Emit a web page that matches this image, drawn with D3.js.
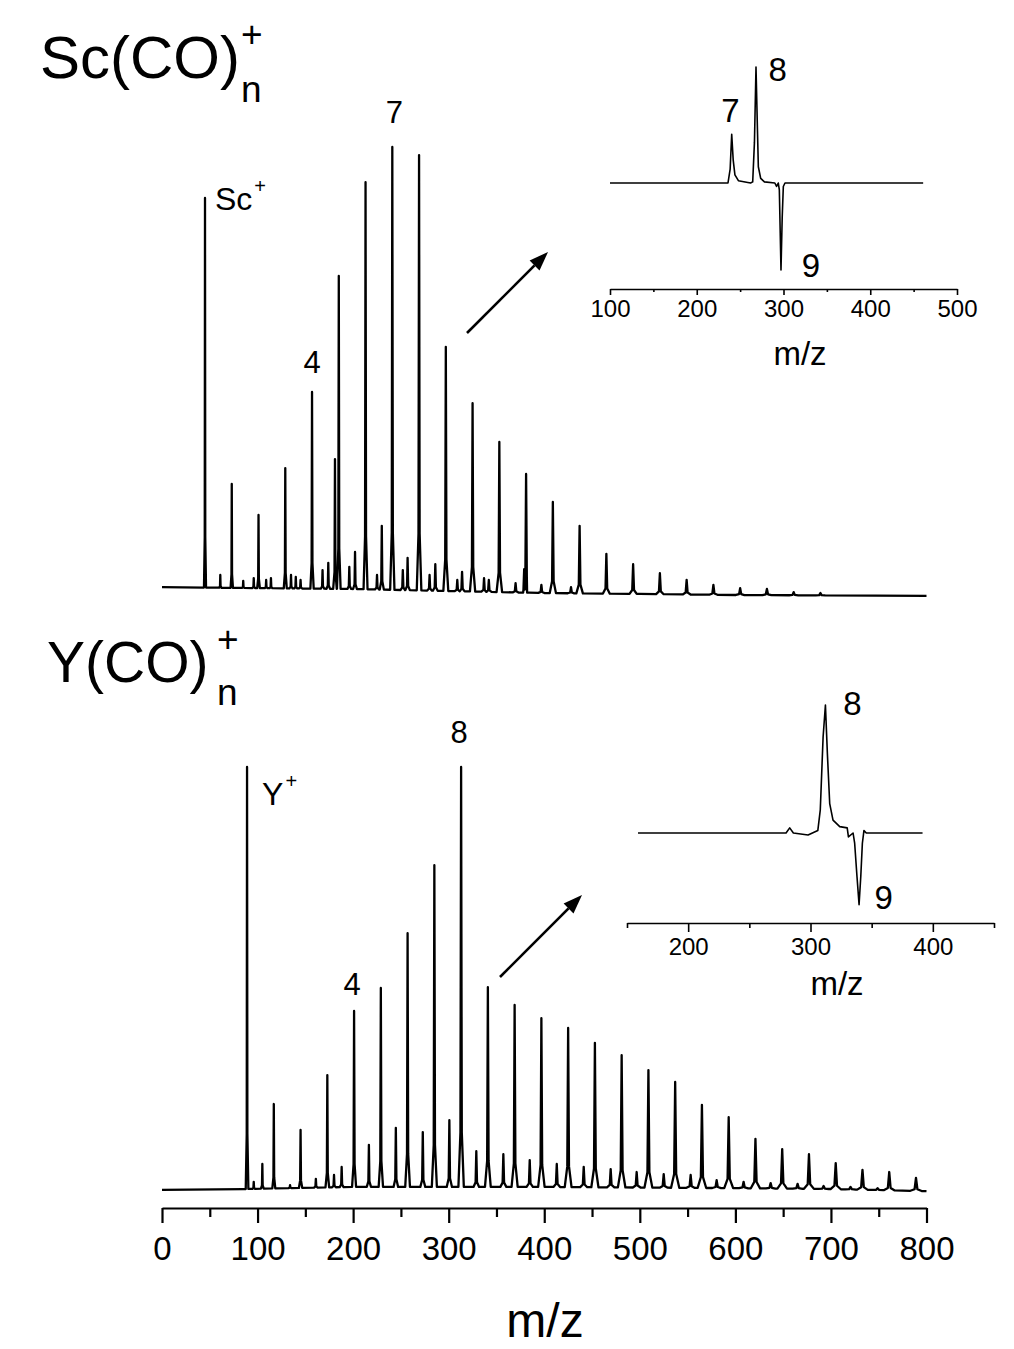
<!DOCTYPE html>
<html>
<head>
<meta charset="utf-8">
<script src="https://cdn.jsdelivr.net/npm/d3@7"></script>
<style>
body { margin: 0; background: #fff; }
svg text { font-family: "Liberation Sans", Arial, sans-serif; fill: #000; }
</style>
</head>
<body>
<div id="chart"></div>
<script>
// ---- Sc(CO)n+ spectrum: main series (n = 0..23, n = 0 is Sc+) ----
var scMass = [45, 73, 101, 129, 157, 185, 213, 241, 269, 297, 325, 353, 381, 409, 437, 465, 493, 521, 549, 577, 605, 633, 661, 689];
var scInt  = [88.7, 25.3, 18.4, 28.8, 45.7, 71.4, 92.2, 100, 98.2, 55.7, 43.2, 34.6, 27.5, 21.3, 16.0, 9.8, 7.5, 5.5, 4.0, 2.9, 2.2, 2.0, 1.3, 1.1];
// small side peaks
var scMinorMass = [61, 85, 96, 109, 114, 135, 140, 145, 168, 174, 181, 196, 202, 225, 230, 252, 257, 280, 286, 309, 314, 337, 342, 370, 379, 397, 428];
var scMinorInt  = [5.1, 3.8, 4.4, 4.0, 4.4, 5.1, 4.7, 4.0, 6.2, 7.8, 30.8, 6.9, 10.2, 5.1, 16.0, 6.2, 8.9, 5.1, 7.5, 4.0, 5.8, 4.4, 4.0, 3.3, 6.4, 2.9, 2.4];
// baseline level
var scBaseMass = [0, 100, 200, 300, 400, 500, 600, 800];
var scBaseInt  = [2.4, 2.2, 2.0, 1.55, 1.1, 0.9, 0.67, 0.45];

// ---- Y(CO)n+ spectrum: main series (n = 0..25, n = 0 is Y+) ----
var yMass = [89, 117, 145, 173, 201, 229, 257, 285, 313, 341, 369, 397, 425, 453, 481, 509, 537, 565, 593, 621, 649, 677, 705, 733, 761, 789];
var yInt  = [100, 20.7, 14.6, 27.5, 42.6, 48.0, 60.9, 76.9, 100, 48.2, 44.0, 40.9, 38.6, 35.1, 32.2, 28.7, 25.9, 20.5, 17.6, 12.5, 10.1, 8.9, 6.8, 5.2, 4.7, 3.3];
var yMinorMass = [96, 105, 134, 161, 180, 188, 216.5, 244.7, 272.9, 300.7, 328.9, 357.2, 384.8, 413.1, 441.3, 469.5, 496.7, 525, 553.2, 580.4, 608.6, 636.9, 665.1, 692.3, 720.5, 748.8];
var yMinorInt  = [2.4, 6.6, 1.6, 3.1, 4.0, 5.9, 11.1, 15.1, 14.1, 16.9, 9.6, 8.9, 7.5, 6.6, 5.9, 5.4, 4.7, 4.2, 4.0, 2.8, 2.4, 2.1, 1.9, 1.4, 1.2, 0.9];
var yBaseMass = [0, 85, 200, 400, 600, 700, 800];
var yBaseInt  = [0.5, 0.7, 1.2, 1.2, 0.9, 0.7, 0.2];

// ---- insets (difference spectra) ----
var insetScMass = [100, 236, 238.5, 240.3, 242, 244, 248, 262, 264.5, 266.5, 268.3, 270, 271, 273.7, 278, 290, 292, 294, 295.2, 297.1, 298.5, 299.8, 301.7, 461];
var insetScSig  = [0, 0, 0.12, 0.42, 0.2, 0.07, 0.02, 0, 0.01, 0.35, 1.0, 0.45, 0.14, 0.04, 0.01, 0, -0.03, 0, -0.06, -0.75, -0.3, -0.03, 0, 0];
var insetYMass = [159, 280, 283, 286, 298, 306, 308, 310.3, 312.2, 313.8, 315.7, 318.4, 323.9, 330, 331, 334.8, 336.1, 338, 339.7, 341.1, 342.4, 343.7, 345.6, 391.6];
var insetYSig  = [0, 0, 0.04, 0, -0.015, 0.02, 0.18, 0.75, 1.0, 0.62, 0.23, 0.1, 0.05, 0.04, -0.03, 0, -0.08, -0.34, -0.56, -0.34, -0.08, 0.02, 0, 0];

var mainTicks = [0, 100, 200, 300, 400, 500, 600, 700, 800];
var insetScTicks = [100, 200, 300, 400, 500];
var insetYTicks = [200, 300, 400];

var width = 1014, height = 1349;
var svg = d3.select("#chart").append("svg")
    .attr("width", width)
    .attr("height", height);

var x = d3.scaleLinear().domain([0, 800]).range([162, 926.5]);
var yTop = d3.scaleLinear().domain([0, 100]).range([598, 147]);
var yBot = d3.scaleLinear().domain([0, 100]).range([1192, 767]);

// build the stick-spectrum outline: baseline knots plus a narrow spike per peak
function spectrum(mass, inten, minorMass, minorInt, baseM, baseI, wA, wB) {
    var base = d3.scaleLinear().domain(baseM).range(baseI);
    var peaks = mass.map(function(m, i) { return [m, inten[i]]; })
        .concat(minorMass.map(function(m, i) { return [m, minorInt[i]]; }));
    var pts = [];
    baseM.forEach(function(m) {
        var inside = peaks.some(function(p) { return Math.abs(p[0] - m) < wA + wB * p[0]; });
        if (!inside) pts.push([m, base(m)]);
    });
    peaks.forEach(function(p) {
        var m = p[0], h = p[1], w = wA + wB * m, b = base(m), mid = b + 0.13 * (h - b);
        pts.push([m - w, base(m - w)], [m - 0.25 * w, mid], [m, h], [m + 0.25 * w, mid], [m + w, base(m + w)]);
    });
    pts.sort(function(a, b) { return a[0] - b[0]; });
    return pts;
}

var lineTop = d3.line().x(function(d) { return x(d[0]); }).y(function(d) { return yTop(d[1]); });
var lineBot = d3.line().x(function(d) { return x(d[0]); }).y(function(d) { return yBot(d[1]); });

svg.append("path")
    .datum(spectrum(scMass, scInt, scMinorMass, scMinorInt, scBaseMass, scBaseInt, 0.8, 0.006))
    .attr("d", lineTop)
    .attr("fill", "none").attr("stroke", "#000")
    .attr("stroke-width", 2.3).attr("stroke-linejoin", "round");

svg.append("path")
    .datum(spectrum(yMass, yInt, yMinorMass, yMinorInt, yBaseMass, yBaseInt, 0.8, 0.0065))
    .attr("d", lineBot)
    .attr("fill", "none").attr("stroke", "#000")
    .attr("stroke-width", 2.3).attr("stroke-linejoin", "round");

// main axis
function styleAxis(g, fs) {
    g.attr("font-family", "Liberation Sans, Arial, sans-serif").attr("font-size", fs);
    g.selectAll("path, line").attr("stroke", "#000");
    g.selectAll("text").attr("fill", "#000");
}
var gx = svg.append("g").attr("transform", "translate(0,1208)")
    .call(d3.axisBottom(x).tickValues(mainTicks).tickSize(15).tickPadding(14).tickSizeOuter(0));
styleAxis(gx, 33);
gx.selectAll("path, line").attr("stroke-width", 2.2);
var gxm = svg.append("g").attr("transform", "translate(0,1208)")
    .call(d3.axisBottom(x).tickValues(d3.range(50, 800, 100)).tickSize(9).tickFormat(""));
gxm.select(".domain").remove();
gxm.selectAll("line").attr("stroke", "#000").attr("stroke-width", 2.2);

svg.append("text").attr("x", 545).attr("y", 1337)
    .attr("text-anchor", "middle").attr("font-size", 48).text("m/z");

// titles
function formula(x0, yBase, main, fs, scx, subY, supY, sfs) {
    svg.append("text").attr("x", x0).attr("y", yBase).attr("font-size", fs).text(main);
    svg.append("text").attr("x", scx).attr("y", subY).attr("font-size", sfs).text("n");
    svg.append("text").attr("x", scx).attr("y", supY).attr("font-size", sfs).text("+");
}
formula(40, 78, "Sc(CO)", 60, 241, 102, 47, 37);
formula(47, 682, "Y(CO)", 57, 217, 705, 652, 37);

// peak labels on main spectra
function ion(xx, yy, t) {
    var tx = svg.append("text").attr("x", xx).attr("y", yy).attr("font-size", 32).text(t);
    svg.append("text").attr("x", xx + tx.node().getComputedTextLength() + 2).attr("y", yy - 17)
        .attr("font-size", 20).text("+");
}
ion(x(scMass[0]) + 10, 210, "Sc");
ion(x(yMass[0]) + 15, 805, "Y");

var peakLabels = [
    {t: "7", x: x(scMass[7]) + 2, y: 123},
    {t: "4", x: x(scMass[4]), y: 373},
    {t: "8", x: x(yMass[8]) - 2, y: 743},
    {t: "4", x: x(yMass[4]) - 2, y: 995}
];
svg.selectAll("text.plab").data(peakLabels).enter().append("text")
    .attr("class", "plab")
    .attr("x", function(d) { return d.x; })
    .attr("y", function(d) { return d.y; })
    .attr("text-anchor", "middle").attr("font-size", 31)
    .text(function(d) { return d.t; });

// arrows pointing at insets
function arrow(x1, y1, x2, y2) {
    var a = Math.atan2(y2 - y1, x2 - x1), L = 19, W = 7;
    var bx = x2 - L * Math.cos(a), by = y2 - L * Math.sin(a);
    svg.append("line").attr("x1", x1).attr("y1", y1).attr("x2", bx).attr("y2", by)
        .attr("stroke", "#000").attr("stroke-width", 2.6);
    svg.append("path")
        .attr("d", "M" + x2 + "," + y2 +
            "L" + (bx + W * Math.sin(a)) + "," + (by - W * Math.cos(a)) +
            "L" + (bx - W * Math.sin(a)) + "," + (by + W * Math.cos(a)) + "Z")
        .attr("fill", "#000");
}
arrow(467, 333, 548, 252);
arrow(500, 977, 582, 895);

// insets
function inset(mass, sig, domain, r, ticks, base0, top1, axisY, major, minor, pad, mzX, mzY, labels) {
    var ix = d3.scaleLinear().domain(domain).range(r);
    var iy = d3.scaleLinear().domain([0, 1]).range([base0, top1]);
    svg.append("path")
        .datum(mass.map(function(m, i) { return [m, sig[i]]; }))
        .attr("d", d3.line().x(function(d) { return ix(d[0]); }).y(function(d) { return iy(d[1]); }))
        .attr("fill", "none").attr("stroke", "#000").attr("stroke-width", 1.6)
        .attr("stroke-linejoin", "round");
    var g = svg.append("g").attr("transform", "translate(0," + axisY + ")")
        .call(d3.axisBottom(ix).tickValues(ticks).tickSize(major).tickPadding(pad).tickSizeOuter(0));
    styleAxis(g, 24);
    g.selectAll("path, line").attr("stroke-width", 1.6);
    var mt = d3.range(domain[0], domain[1] + 1, 50).filter(function(v) { return ticks.indexOf(v) < 0; });
    var gm = svg.append("g").attr("transform", "translate(0," + axisY + ")")
        .call(d3.axisBottom(ix).tickValues(mt).tickSize(minor).tickFormat(""));
    gm.select(".domain").remove();
    gm.selectAll("line").attr("stroke", "#000").attr("stroke-width", 1.6);
    svg.append("text").attr("x", mzX).attr("y", mzY).attr("text-anchor", "middle")
        .attr("font-size", 33).text("m/z");
    labels.forEach(function(l) {
        svg.append("text").attr("x", ix(l.m) + l.dx).attr("y", l.y)
            .attr("text-anchor", "middle").attr("font-size", 33).text(l.t);
    });
}
inset(insetScMass, insetScSig, [100, 500], [610, 957], insetScTicks, 183, 67, 289, 6, 3, 5, 800, 365,
    [{t: "7", m: 241, dx: -2, y: 122}, {t: "8", m: 269, dx: 21, y: 81}, {t: "9", m: 297, dx: 30, y: 277}]);
inset(insetYMass, insetYSig, [150, 450], [627, 994], insetYTicks, 833, 705, 923, 9, 5, 6, 837, 995,
    [{t: "8", m: 313, dx: 26, y: 715}, {t: "9", m: 341, dx: 23, y: 909}]);
</script>
</body>
</html>
